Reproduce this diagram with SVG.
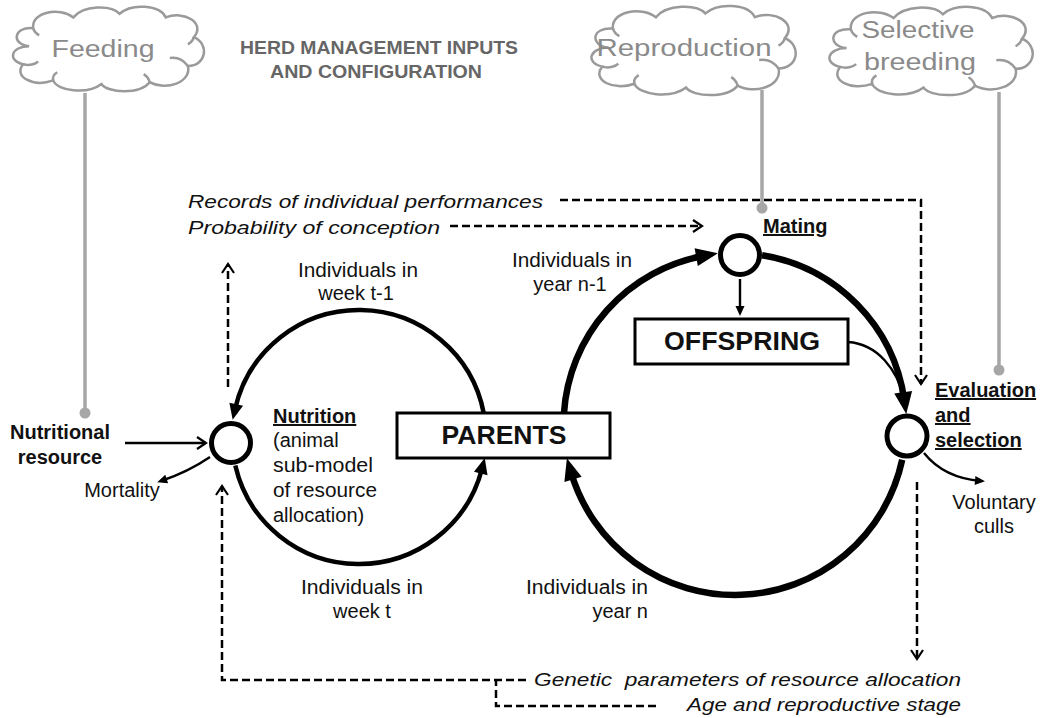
<svg xmlns="http://www.w3.org/2000/svg" xmlns:xlink="http://www.w3.org/1999/xlink" width="1046" height="718" viewBox="0 0 1046 718">
<style>
text{font-family:"Liberation Sans",Arial,sans-serif;fill:#111}
.cl{fill:#8a8a8a;font-size:23px}
.ti{fill:#666;font-size:18px;font-weight:bold}
.it{font-style:italic;font-size:19px}
.lb{font-size:20px}
.bd{font-weight:bold;font-size:20px}
.u{text-decoration:underline}
.box{fill:#fff;stroke:#000;stroke-width:3}
.node{fill:#fff;stroke:#000;stroke-width:5}
.big{fill:none;stroke:#000;stroke-width:6.5}
.mid{fill:none;stroke:#000;stroke-width:4.5}
.thin{fill:none;stroke:#000;stroke-width:2.4}
.dash{fill:none;stroke:#000;stroke-width:2.5;stroke-dasharray:8 4}
.gray{fill:none;stroke:#a6a6a6;stroke-width:3.5}
.dot{fill:#a6a6a6}
.cloud{fill:#fff;stroke:#9a9a9a;stroke-width:2.5}
.curl{fill:none;stroke:#9a9a9a;stroke-width:2.5}
</style>
<defs>
<marker id="mBig" markerUnits="userSpaceOnUse" markerWidth="24" markerHeight="20" viewBox="0 0 24 20" refX="8" refY="9" orient="auto" overflow="visible"><path d="M0,0 L22,9 L0,18 Z" fill="#000"/></marker>
<marker id="mMid" markerUnits="userSpaceOnUse" markerWidth="18" markerHeight="16" viewBox="0 0 18 16" refX="5" refY="7" orient="auto" overflow="visible"><path d="M0,0 L16,7 L0,14 Z" fill="#000"/></marker>
<marker id="mSm" markerUnits="userSpaceOnUse" markerWidth="12" markerHeight="10" viewBox="0 0 12 10" refX="6" refY="4.5" orient="auto" overflow="visible"><path d="M0,0 L10,4.5 L0,9 Z" fill="#000"/></marker>
<marker id="mOpen" markerUnits="userSpaceOnUse" markerWidth="12" markerHeight="14" viewBox="0 0 12 14" refX="9" refY="6" orient="auto" overflow="visible"><path d="M0,0 L9,6 L0,12" fill="none" stroke="#000" stroke-width="2.2"/></marker>
<g id="cloudShape">
<path class="cloud" vector-effect="non-scaling-stroke" d="M22,48 C4,46 6,26 26,28 C24,10 52,4 66,16 C76,2 104,2 112,12 C124,0 152,2 158,16 C176,8 198,22 186,38 C202,46 198,70 180,70 C184,88 158,98 142,88 C132,102 100,100 94,90 C80,102 50,98 46,86 C26,94 6,82 16,68 C0,64 4,48 22,48 Z"/>
<path class="curl" vector-effect="non-scaling-stroke" d="M16,68 C22,70 28,68 31,65 M46,86 C45,82 47,79 50,77 M142,88 C141,84 139,81 136,79 M180,70 C175,62 168,60 162,61 M186,38 C185,42 183,44 180,46 M26,28 C27,32 29,34 32,36"/>
</g>
</defs>

<g id="connectors">
<path class="gray" d="M85,93 V413"/><circle class="dot" cx="85" cy="413" r="5.5"/>
<path class="gray" d="M762,90 V208"/><circle class="dot" cx="762" cy="208" r="5.5"/>
<path class="gray" d="M999,92 V370"/><circle class="dot" cx="999" cy="370" r="5.5"/>
<path class="mid" d="M483.7,413 A127,127 0 0 0 235.1,409.1" marker-end="url(#mMid)"/>
<path class="mid" d="M235.3,465.6 A127,127 0 0 0 482,468.7" marker-end="url(#mMid)"/>
<path class="big" d="M564,413 A171,171 0 0 1 704.1,255.8" marker-end="url(#mBig)"/>
<path class="big" d="M762,255.2 A171,171 0 0 1 904.3,400.2" marker-end="url(#mBig)"/>
<path class="big" d="M902.2,459.8 A171,171 0 0 1 570.8,471.7" marker-end="url(#mBig)"/>
<path class="thin" d="M125,443 H206" marker-end="url(#mOpen)"/>
<path class="thin" d="M210,457 Q188,472 161,481" marker-end="url(#mSm)"/>
<path class="thin" d="M740,279 V312" marker-end="url(#mSm)"/>
<path class="thin" d="M848,342 C878,344 897,370 904,398"/>
<path class="thin" d="M924,453 Q944,478 981,481" marker-end="url(#mSm)"/>
<path class="dash" d="M560,200 H921 V384" marker-end="url(#mOpen)"/>
<path class="dash" d="M450,226 H702" marker-end="url(#mOpen)"/>
<path class="dash" d="M228,387 V264" marker-end="url(#mOpen)"/>
<path class="dash" d="M917,482 V659" marker-end="url(#mOpen)"/>
<path class="dash" d="M526,680 H222 V486" marker-end="url(#mOpen)"/>
<path class="dash" d="M656,706 H496 V680"/>
</g>

<g id="title">
<text class="ti" x="379" y="54" text-anchor="middle" textLength="278" lengthAdjust="spacingAndGlyphs">HERD MANAGEMENT INPUTS</text>
<text class="ti" x="376" y="78" text-anchor="middle" textLength="212" lengthAdjust="spacingAndGlyphs">AND CONFIGURATION</text>
</g>

<g id="feeding">
<use xlink:href="#cloudShape" transform="translate(7,3) scale(1.005,0.9)"/>
<text class="cl" x="103" y="57" text-anchor="middle" textLength="103" lengthAdjust="spacingAndGlyphs">Feeding</text>
</g>
<g id="reproduction">
<use xlink:href="#cloudShape" transform="translate(585,2) scale(1.075,0.95)"/>
<text class="cl" x="684" y="56" text-anchor="middle" textLength="175" lengthAdjust="spacingAndGlyphs">Reproduction</text>
</g>
<g id="selective-breeding">
<use xlink:href="#cloudShape" transform="translate(823,3) scale(1.07,0.94)"/>
<text class="cl" x="918" y="38" text-anchor="middle" textLength="113" lengthAdjust="spacingAndGlyphs">Selective</text>
<text class="cl" x="920" y="70" text-anchor="middle" textLength="112" lengthAdjust="spacingAndGlyphs">breeding</text>
</g>

<g id="records">
<text class="it" x="188" y="208" textLength="355" lengthAdjust="spacingAndGlyphs">Records of individual performances</text>
<text class="it" x="188" y="234" textLength="252" lengthAdjust="spacingAndGlyphs">Probability of conception</text>
</g>

<g id="nutritional-resource">
<text class="bd" x="60" y="439" text-anchor="middle" font-size="19">Nutritional</text>
<text class="bd" x="60" y="464" text-anchor="middle" font-size="19">resource</text>
</g>
<g id="mortality"><text class="lb" x="122" y="497" text-anchor="middle" font-size="18">Mortality</text></g>

<g id="nutrition">
<circle class="node" cx="231" cy="443" r="19.5"/>
<text class="bd u" x="273" y="423" font-size="21">Nutrition</text>
<text class="lb" x="273" y="447" font-size="21">(animal</text>
<text class="lb" x="273" y="472" font-size="21" textLength="100" lengthAdjust="spacingAndGlyphs">sub-model</text>
<text class="lb" x="273" y="497" font-size="21" textLength="104" lengthAdjust="spacingAndGlyphs">of resource</text>
<text class="lb" x="273" y="522" font-size="21">allocation)</text>
</g>

<g id="parents">
<rect class="box" x="397" y="413" width="213" height="45"/>
<text x="504" y="444" text-anchor="middle" font-size="26" font-weight="bold" textLength="125" lengthAdjust="spacingAndGlyphs">PARENTS</text>
</g>

<g id="mating">
<circle class="node" cx="740" cy="255" r="19.5"/>
<text class="bd u" x="763" y="233">Mating</text>
</g>

<g id="offspring">
<rect class="box" x="635" y="319" width="213" height="45"/>
<text x="742" y="350" text-anchor="middle" font-size="26" font-weight="bold" textLength="156" lengthAdjust="spacingAndGlyphs">OFFSPRING</text>
</g>

<g id="evaluation">
<circle class="node" cx="907" cy="436" r="20"/>
<text class="bd u" x="935" y="397">Evaluation</text>
<text class="bd u" x="935" y="422">and</text>
<text class="bd u" x="935" y="447">selection</text>
</g>

<g id="voluntary-culls">
<text class="lb" x="994" y="509" text-anchor="middle">Voluntary</text>
<text class="lb" x="994" y="533" text-anchor="middle">culls</text>
</g>

<g id="loop-labels">
<text class="lb" x="358" y="277" text-anchor="middle" textLength="120" lengthAdjust="spacingAndGlyphs">Individuals in</text>
<text class="lb" x="356" y="300" text-anchor="middle">week t-1</text>
<text class="lb" x="572" y="267" text-anchor="middle" textLength="120" lengthAdjust="spacingAndGlyphs">Individuals in</text>
<text class="lb" x="570" y="291" text-anchor="middle">year n-1</text>
<text class="lb" x="362" y="594" text-anchor="middle" textLength="122" lengthAdjust="spacingAndGlyphs">Individuals in</text>
<text class="lb" x="362" y="618" text-anchor="middle">week t</text>
<text class="lb" x="648" y="594" text-anchor="end" textLength="122" lengthAdjust="spacingAndGlyphs">Individuals in</text>
<text class="lb" x="648" y="618" text-anchor="end">year n</text>
</g>

<g id="genetic">
<text class="it" x="534" y="686" style="white-space:pre" textLength="427" lengthAdjust="spacingAndGlyphs">Genetic  parameters of resource allocation</text>
<text class="it" x="687" y="711" textLength="274" lengthAdjust="spacingAndGlyphs">Age and reproductive stage</text>
</g>
</svg>
